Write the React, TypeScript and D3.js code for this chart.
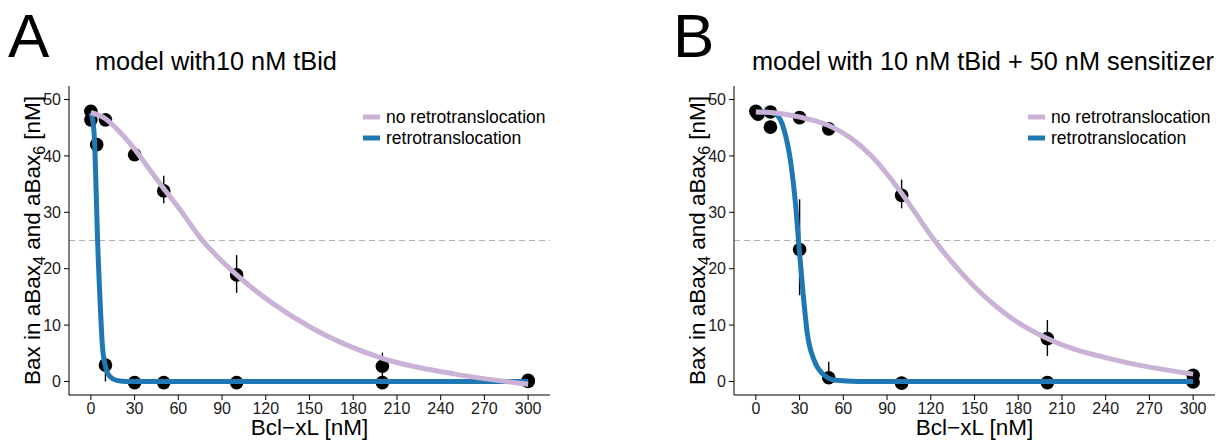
import React from 'react';
import * as d3 from 'd3';

const FONT = '"Liberation Sans", Arial, Helvetica, sans-serif';
const PURPLE = '#cab2d6';
const BLUE = '#1f78b4';

const xTicks = [0, 30, 60, 90, 120, 150, 180, 210, 240, 270, 300];
const yTicks = [0, 10, 20, 30, 40, 50];
const legendLabels = ['no retrotranslocation', 'retrotranslocation'];
const panelTags = ['A', 'B'];
const panelTitles = ['model with10 nM tBid', 'model with 10 nM tBid + 50 nM sensitizer'];

// model curves, [Bcl-xL, Bax]
const curveNoRetroA = [
  [0, 47.7], [10, 46.6], [20, 44.2], [30, 41.2], [40, 37.7], [50, 34.2], [60, 30.9],
  [75, 25.5], [100, 18.9], [125, 13.8], [150, 9.7], [200, 4.1], [250, 1.3], [300, -0.5]
];
const curveRetroA = [
  [0, 47.6], [1.6, 45.8], [2.7, 41.7], [3.4, 35.8], [4.6, 25.1], [6.2, 15], [8, 6.1],
  [10.7, 2], [13, 0.9], [17.6, 0.2], [25, 0], [300, 0]
];
const curveNoRetroB = [
  [0, 47.8], [10, 47.7], [20, 47.4], [30, 46.9], [50, 45.4], [65, 43.2], [80, 39.8],
  [100, 33.4], [122, 25.2], [150, 16.8], [175, 11.3], [200, 7.6], [250, 3.6], [300, 1.3]
];
const curveRetroB = [
  [0, 47.8], [10, 47.7], [13.7, 47.4], [19.4, 44.6], [24, 38.7], [27.4, 31], [29.6, 23.9],
  [32.4, 15.6], [35.3, 8.5], [39.9, 3.8], [45.6, 1.4], [54.8, 0.2], [70, 0], [300, 0]
];

// simulated points, [Bcl-xL, mean, low, high]
const pointsNoRetroA = [
  [0, 47.9, 47.9, 47.9], [10, 46.4, 46.4, 46.4], [30, 40.2, 40.2, 40.2], [50, 33.8, 31.6, 36.5],
  [100, 18.9, 15.7, 22.4], [200, 2.7, 0.5, 5.1], [300, 0.2, 0.2, 0.2]
];
const pointsRetroA = [
  [0, 46.4, 46.4, 46.4], [4, 42, 42, 42], [10, 2.9, 0, 4], [30, -0.2, -0.2, -0.2],
  [50, -0.2, -0.2, -0.2], [100, -0.2, -0.2, -0.2], [200, -0.2, -0.2, -0.2], [300, 0, 0, 0]
];
const pointsNoRetroB = [
  [0, 47.9, 47.9, 47.9], [10, 47.8, 47.8, 47.8], [30, 46.8, 46.8, 46.8], [50, 44.8, 44.8, 44.8],
  [100, 33, 30.7, 35.8], [200, 7.6, 4.5, 10.9], [300, 1.1, 0.6, 2.2]
];
const pointsRetroB = [
  [1.5, 47.4, 47.4, 47.4], [10, 45.1, 45.1, 45.1], [30, 23.4, 15.3, 32.3], [50, 0.65, 0, 3.5],
  [100, -0.3, -0.3, -0.3], [200, -0.2, -0.2, -0.2], [300, -0.1, -0.1, -0.1]
];

const halfMax = 25;

function Panel({ left, tag, title, titleX, noRetro, retro, ptsNoRetro, ptsRetro }) {
  const x0 = left + 69;
  const x1 = left + 550;
  const yTop = 86;
  const yBot = 395;

  const x = d3.scaleLinear().domain([-15, 315]).range([x0, x1]);
  const y = d3.scaleLinear().domain([-2.4, 52.4]).range([yBot, yTop]);

  const line = d3.line()
    .x((d) => x(d[0]))
    .y((d) => y(d[1]))
    .curve(d3.curveMonotoneX);

  const allPts = [...ptsNoRetro, ...ptsRetro];

  return (
    <g fontFamily={FONT}>
      <text x={left + 8} y={57} fontSize={62}>{tag}</text>
      <text x={titleX} y={70} fontSize={25.3}>{title}</text>

      <line x1={x0} x2={x1} y1={y(halfMax)} y2={y(halfMax)}
        stroke="#b3b3b3" strokeWidth={1.2} strokeDasharray="6,4" />

      {allPts.map((d, i) => (
        <line key={'e' + i} x1={x(d[0])} x2={x(d[0])} y1={y(d[2])} y2={y(d[3])}
          stroke="#000" strokeWidth={1.4} />
      ))}
      {allPts.map((d, i) => (
        <circle key={'p' + i} cx={x(d[0])} cy={y(d[1])} r={6.8} fill="#000" />
      ))}

      <path d={line(retro)} fill="none" stroke={BLUE} strokeWidth={5} />
      <path d={line(noRetro)} fill="none" stroke={PURPLE} strokeWidth={5} />

      {/* axes */}
      <line x1={x0} x2={x0} y1={yTop} y2={yBot} stroke="#000" strokeWidth={1} />
      <line x1={x0} x2={x1} y1={yBot} y2={yBot} stroke="#000" strokeWidth={1} />
      {yTicks.map((t) => (
        <g key={'y' + t}>
          <line x1={x0 - 5} x2={x0} y1={y(t)} y2={y(t)} stroke="#000" />
          <text x={x0 - 8} y={y(t)} dy="0.36em" textAnchor="end" fontSize={16} fill="#1a1a1a">{t}</text>
        </g>
      ))}
      {xTicks.map((t) => (
        <g key={'x' + t}>
          <line x1={x(t)} x2={x(t)} y1={yBot} y2={yBot + 5} stroke="#000" />
          <text x={x(t)} y={413.5} textAnchor="middle" fontSize={16} fill="#1a1a1a">{t}</text>
        </g>
      ))}
      <text x={(x0 + x1) / 2} y={435} textAnchor="middle" fontSize={22.5}>Bcl−xL [nM]</text>
      <text transform={`translate(${left + 40},${(yTop + yBot) / 2}) rotate(-90)`}
        textAnchor="middle" fontSize={22.5}>
        Bax in aBax<tspan dy={5} fontSize={16}>4</tspan>
        <tspan dy={-5}> and aBax</tspan><tspan dy={5} fontSize={16}>6</tspan>
        <tspan dy={-5}> [nM]</tspan>
      </text>

      {/* legend */}
      {legendLabels.map((lab, i) => (
        <g key={lab} transform={`translate(${left + 363},${117 + i * 21})`}>
          <line x1={0} x2={17} y1={0} y2={0} stroke={i === 0 ? PURPLE : BLUE} strokeWidth={5} />
          <text x={23} y={0} dy="0.35em" fontSize={17.5}>{lab}</text>
        </g>
      ))}
    </g>
  );
}

export default function App() {
  return (
    <svg width={1227} height={441} style={{ position: 'absolute', left: 0, top: 0, background: '#fff' }}>
      <rect width={1227} height={441} fill="#fff" />
      <Panel left={0} tag={panelTags[0]} title={panelTitles[0]} titleX={95}
        noRetro={curveNoRetroA} retro={curveRetroA} ptsNoRetro={pointsNoRetroA} ptsRetro={pointsRetroA} />
      <Panel left={665} tag={panelTags[1]} title={panelTitles[1]} titleX={752}
        noRetro={curveNoRetroB} retro={curveRetroB} ptsNoRetro={pointsNoRetroB} ptsRetro={pointsRetroB} />
    </svg>
  );
}
